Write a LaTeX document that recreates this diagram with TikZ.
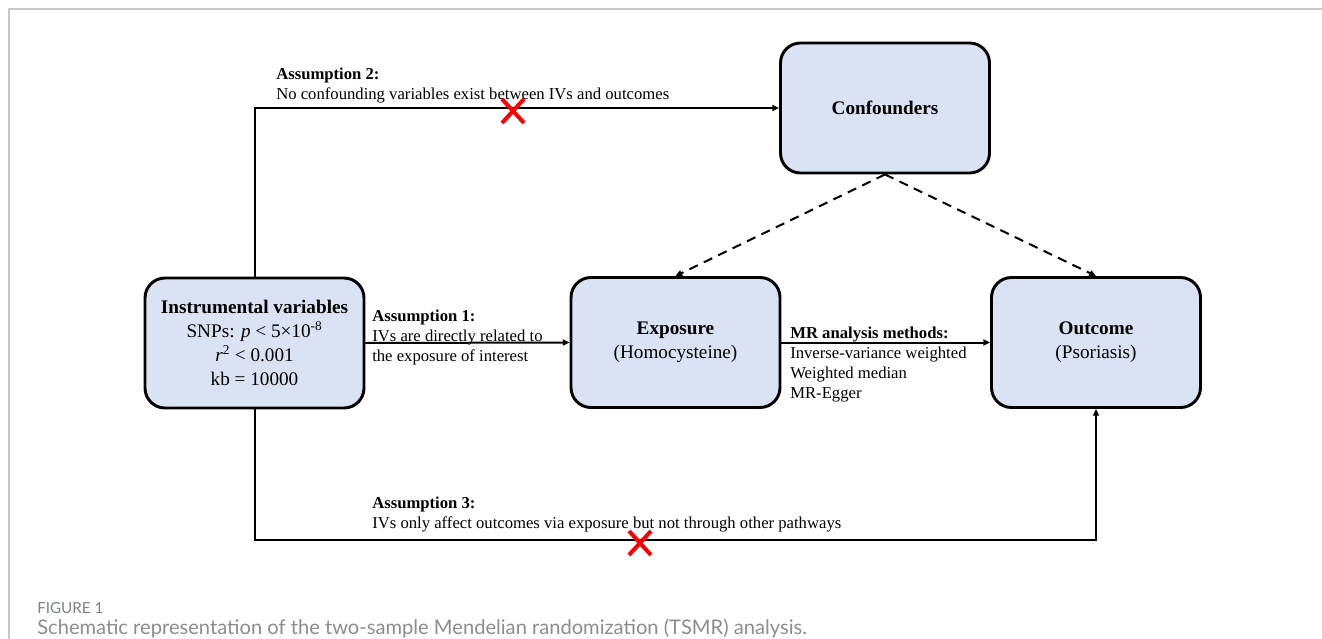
\documentclass[tikz,border=0pt]{standalone}
\usepackage{fontspec}
\setmainfont{Liberation Serif}
\newfontfamily\capfont{Lato}
\usetikzlibrary{arrows.meta}
\definecolor{boxblue}{HTML}{DAE3F3}
\definecolor{crossred}{HTML}{FF0000}
\definecolor{framegray}{HTML}{C8C8C8}
\definecolor{capgray}{HTML}{8C8C8C}
\definecolor{figgray}{HTML}{7C8186}

\begin{document}
\begin{tikzpicture}[x=0.75pt,y=-0.75pt,
  varbox/.style={draw,line width=2.2pt,rounded corners=15pt,fill=boxblue,align=center,
    minimum width=156.75pt,minimum height=97.5pt,font=\fontsize{14.4}{18}\selectfont},
  link/.style={line width=1.5pt,-{Triangle[length=5pt,width=4.5pt]}},
  dashlink/.style={link,dash pattern=on 7pt off 5pt},
  note/.style={anchor=north west,inner sep=0pt,align=left,font=\fontsize{12.5}{15}\selectfont},
  nocross/.style={line width=3pt,color=crossred}]
\useasboundingbox (0,0) rectangle (1322,639);
% frame
\draw[framegray,line width=1pt] (9,639) -- (9,9) -- (1322,9);
% boxes
\node[varbox,minimum width=164.25pt] (iv) at (254.5,343) {\textbf{Instrumental variables}\\SNPs: \textit{p} < 5×10\textsuperscript{-8}\\\textit{r}\textsuperscript{2} < 0.001\\kb = 10000};
\node[varbox] (exposure) at (675.5,342.5) {\textbf{Exposure}\\(Homocysteine)};
\node[varbox] (outcome) at (1096,342.5) {\textbf{Outcome}\\(Psoriasis)};
\node[varbox] (confounders) at (885,108) {\textbf{Confounders}};
% links
\coordinate (lowturn) at (254.5,540);
\draw[link] (iv.north) |- (confounders.west);
\draw[link] (iv.east) -- (exposure.west);
\draw[link] (exposure.east) -- (outcome.west);
\draw[link] (iv.south) -- (lowturn) -| (outcome.south);
\draw[dashlink] (confounders.south) -- (exposure.north);
\draw[dashlink] (confounders.south) -- (outcome.north);
% labels
\node[note] (asm2) at (276,68) {\textbf{Assumption 2:}\\No confounding variables exist between IVs and outcomes};
\node[note] (asm1) at (372,310) {\textbf{Assumption 1:}\\IVs are directly related to\\the exposure of interest};
\node[note] (methods) at (790,327) {\textbf{MR analysis methods:}\\Inverse-variance weighted\\Weighted median\\MR-Egger};
\node[note] (asm3) at (372,497) {\textbf{Assumption 3:}\\IVs only affect outcomes via exposure but not through other pathways};
% crosses
\draw[nocross] (502,99) -- (524,123);
\draw[nocross] (502,123) -- (524,99);
\draw[nocross] (629,531) -- (651,555);
\draw[nocross] (629,555) -- (651,531);
% caption
\node[anchor=base west,inner sep=0pt,text=figgray,font=\capfont\fontsize{11.4}{13}\selectfont] (figno) at (37,613) {FIGURE 1};
\node[anchor=base west,inner sep=0pt,text=capgray,font=\capfont\fontsize{15.1}{17}\selectfont] (caption) at (37,634) {Schematic representation of the two-sample Mendelian randomization (TSMR) analysis.};
\end{tikzpicture}
\end{document}
